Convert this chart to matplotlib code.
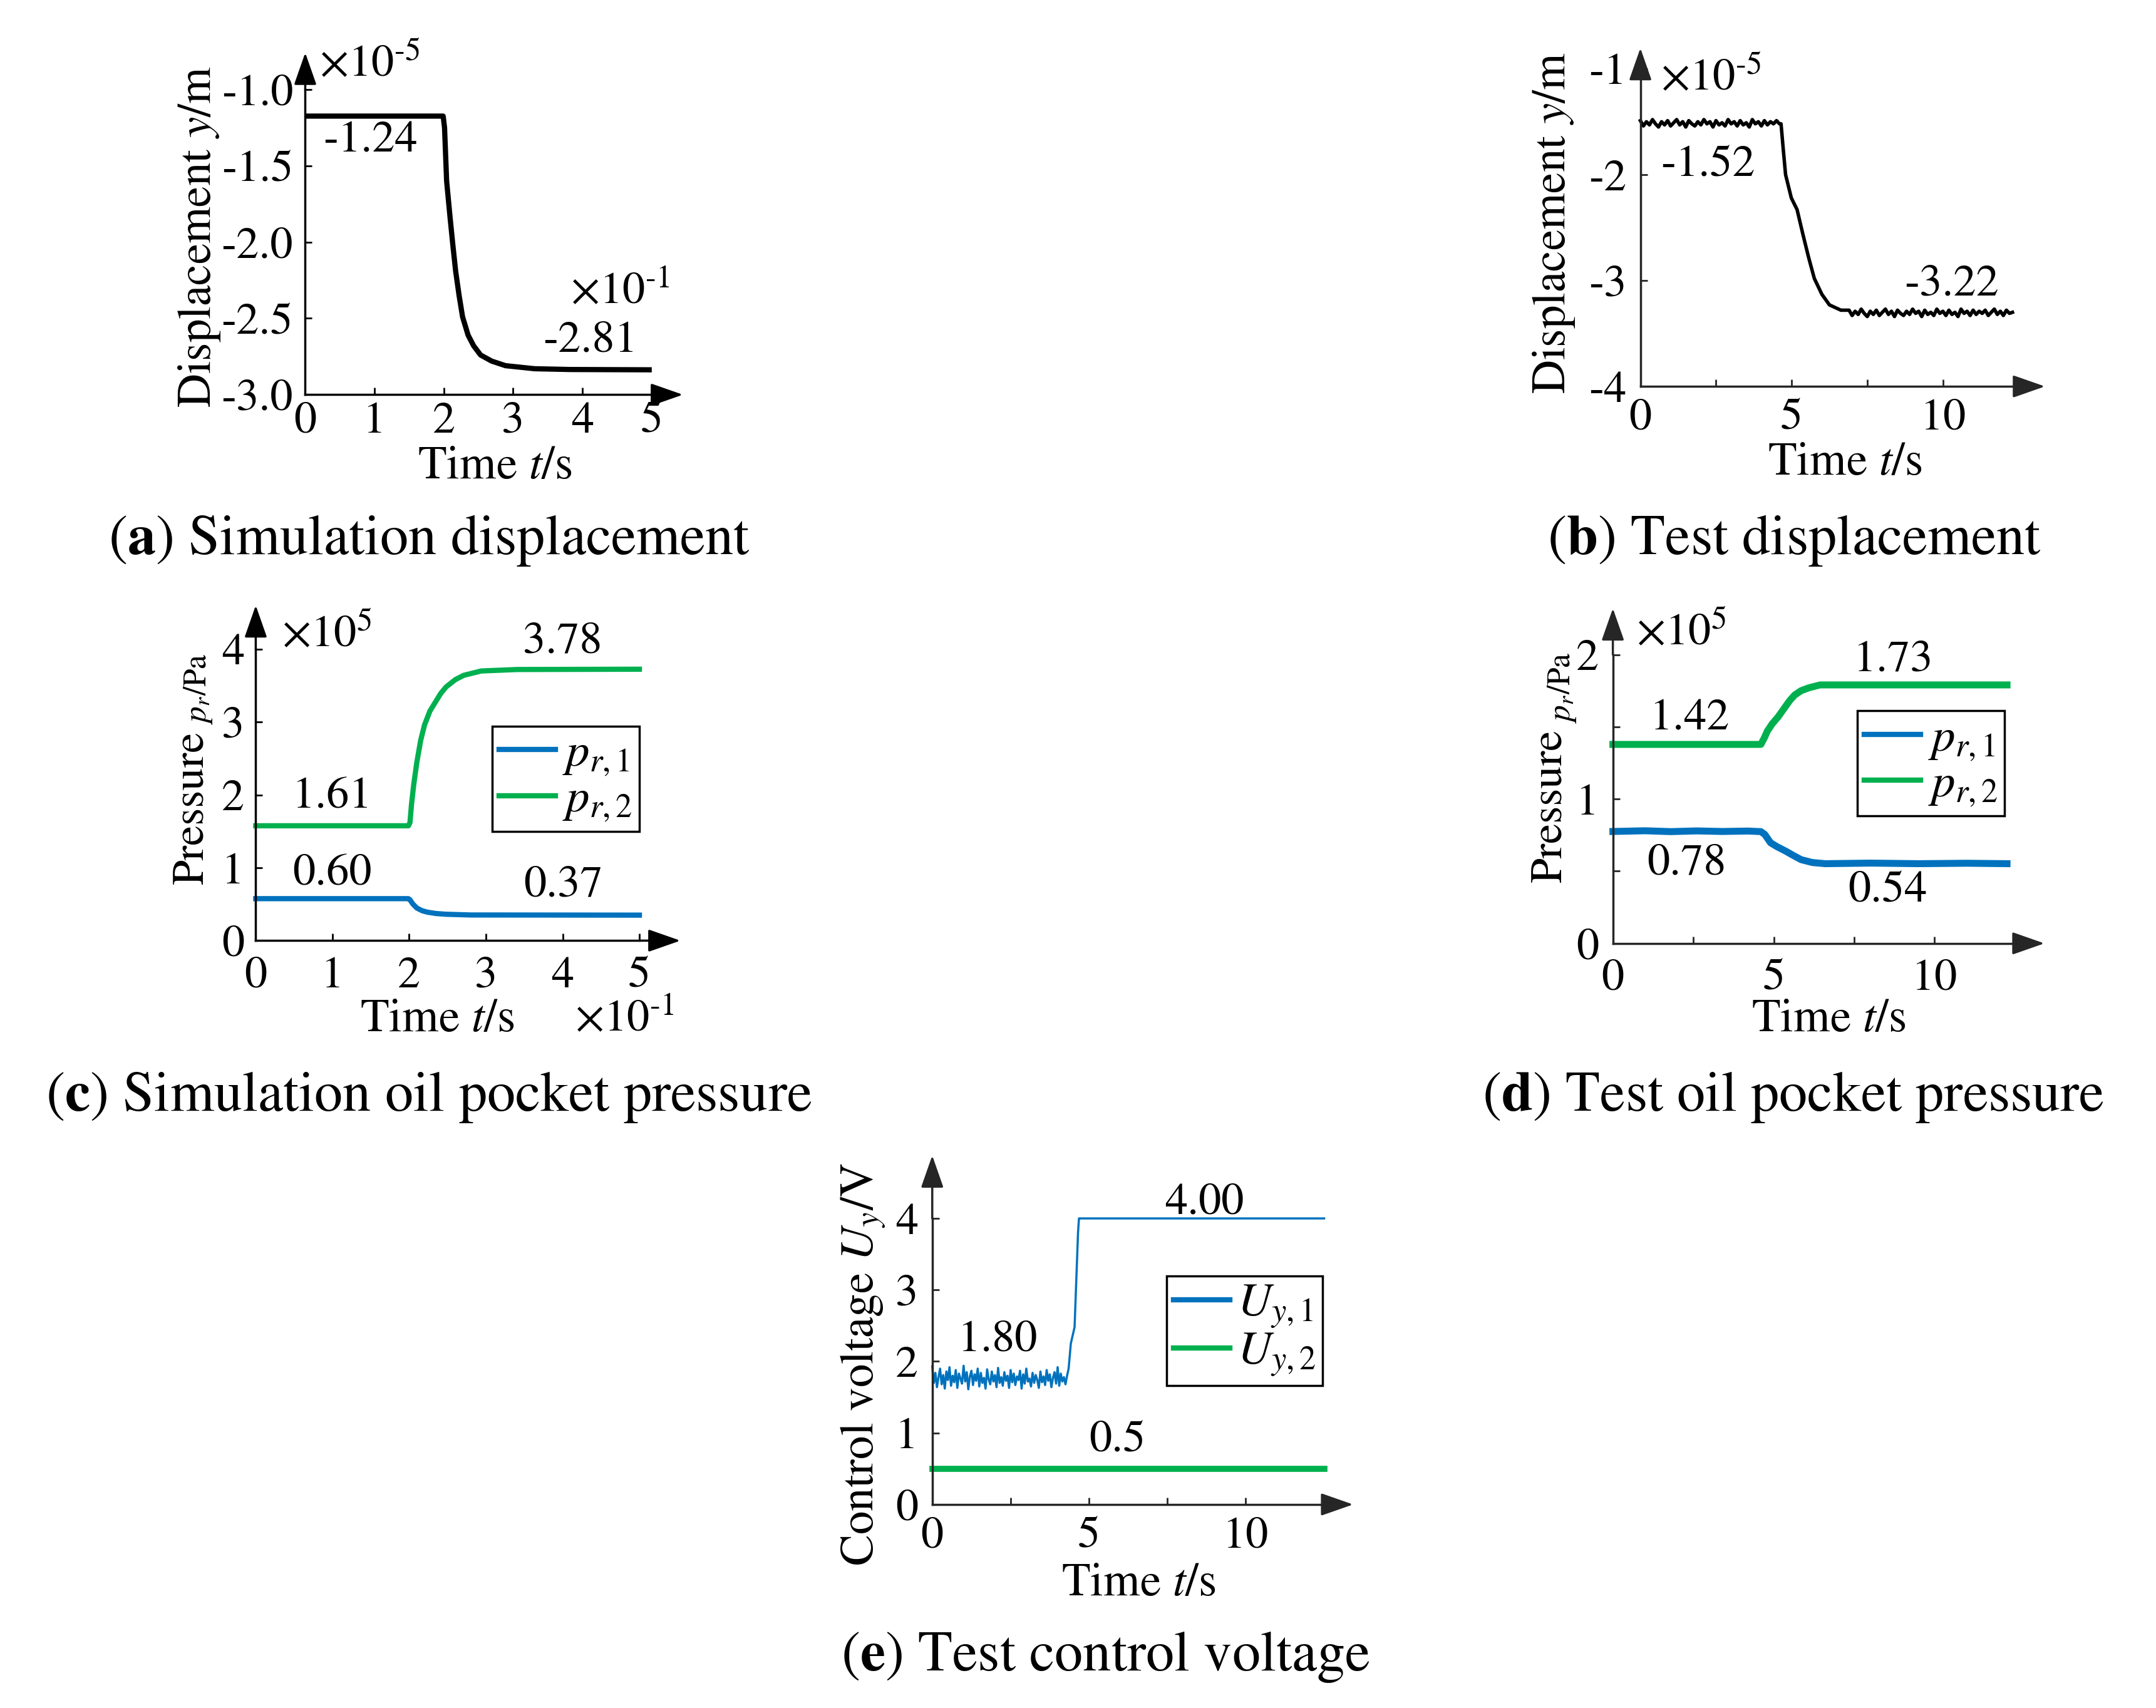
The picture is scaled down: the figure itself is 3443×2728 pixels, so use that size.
import numpy as np
import matplotlib
matplotlib.use('Agg')
import matplotlib.pyplot as plt

plt.rcParams['font.family'] = 'STIXGeneral'
plt.rcParams['mathtext.fontset'] = 'stix'
plt.rcParams['axes.unicode_minus'] = False

BLUE = '#0072BD'
GREEN = '#00B04F'

###########################################################
# (a) simulated displacement, time in x10^-1 s, y in x10^-5 m
t_a = [0, 1.99, 2.01, 2.04, 2.09, 2.13, 2.17, 2.22, 2.27, 2.35, 2.43, 2.53, 2.69, 2.89, 3.31, 3.82, 5.0]
y_a = [-1.175, -1.175, -1.25, -1.60, -1.84, -2.02, -2.19, -2.35, -2.49, -2.61, -2.68, -2.74,
       -2.78, -2.81, -2.83, -2.835, -2.837]

# (b) measured displacement (0.1 s samples before / after the step)
y_b_pre = [-1.49, -1.54, -1.50, -1.53, -1.48, -1.52, -1.55, -1.50, -1.53, -1.49,
           -1.54, -1.51, -1.48, -1.53, -1.50, -1.55, -1.49, -1.52, -1.54, -1.50,
           -1.53, -1.48, -1.52, -1.50, -1.55, -1.49, -1.53, -1.51, -1.54, -1.48,
           -1.52, -1.50, -1.54, -1.49, -1.53, -1.51, -1.55, -1.48, -1.52, -1.50,
           -1.54, -1.49, -1.53, -1.50, -1.52, -1.49, -1.52]
t_b_step = [4.65, 4.72, 4.8, 4.99, 5.18, 5.37, 5.56, 5.75, 6.0, 6.25, 6.63]
y_b_step = [-1.52, -1.75, -2.0, -2.22, -2.33, -2.56, -2.78, -2.98, -3.13, -3.23, -3.28]
y_b_post = [-3.28, -3.33, -3.29, -3.32, -3.27, -3.31, -3.34, -3.29, -3.32, -3.28,
            -3.33, -3.30, -3.27, -3.32, -3.29, -3.34, -3.28, -3.31, -3.33, -3.29,
            -3.32, -3.27, -3.31, -3.29, -3.34, -3.28, -3.32, -3.30, -3.33, -3.27,
            -3.31, -3.29, -3.33, -3.28, -3.32, -3.30, -3.34, -3.27, -3.31, -3.29,
            -3.33, -3.28, -3.32, -3.29, -3.31, -3.28, -3.33, -3.30, -3.27, -3.32,
            -3.29, -3.33, -3.28, -3.31, -3.30]

# (c) simulated oil pocket pressure, x10^5 Pa
t_c2 = [0, 1.99, 2.01, 2.03, 2.06, 2.10, 2.15, 2.20, 2.27, 2.34, 2.41, 2.48, 2.6, 2.71, 2.94, 3.41, 5.0]
p_c2 = [1.576, 1.576, 1.62, 1.87, 2.15, 2.45, 2.75, 2.96, 3.15, 3.27, 3.39, 3.48, 3.58, 3.64, 3.70, 3.72, 3.724]
t_c1 = [0, 1.99, 2.01, 2.05, 2.10, 2.17, 2.24, 2.35, 2.48, 2.8, 5.0]
p_c1 = [0.576, 0.576, 0.56, 0.50, 0.447, 0.41, 0.39, 0.372, 0.362, 0.352, 0.35]

# (d) measured oil pocket pressure
t_d1 = [0, 1.0, 1.8, 2.6, 3.4, 4.2, 4.6, 4.72, 4.9, 5.1, 5.37, 5.6, 5.85, 6.2, 6.6, 8.0, 9.5, 11.0, 12.25]
p_d1 = [0.775, 0.78, 0.774, 0.779, 0.775, 0.778, 0.774, 0.755, 0.697, 0.67, 0.639, 0.61, 0.58,
        0.56, 0.552, 0.556, 0.552, 0.555, 0.552]
t_d2 = [0, 4.6, 4.7, 4.8, 4.95, 5.14, 5.3, 5.49, 5.65, 5.85, 6.09, 6.44, 12.25]
p_d2 = [1.378, 1.378, 1.42, 1.47, 1.52, 1.57, 1.62, 1.68, 1.72, 1.75, 1.77, 1.79, 1.79]

# (e) control voltage (0.05 s samples before the step)
u_e1_pre = [1.93, 1.70, 1.84, 1.64, 1.78, 1.90, 1.68, 1.81, 1.62, 1.86,
            1.74, 1.92, 1.66, 1.80, 1.71, 1.88, 1.63, 1.83, 1.76, 1.69,
            1.94, 1.72, 1.85, 1.61, 1.79, 1.87, 1.67, 1.82, 1.73, 1.90,
            1.65, 1.84, 1.70, 1.77, 1.62, 1.89, 1.75, 1.68, 1.86, 1.72,
            1.81, 1.64, 1.91, 1.70, 1.78, 1.66, 1.85, 1.73, 1.80, 1.63,
            1.88, 1.71, 1.83, 1.67, 1.79, 1.74, 1.87, 1.62, 1.82, 1.69,
            1.90, 1.72, 1.76, 1.65, 1.84, 1.70, 1.81, 1.74, 1.63, 1.86,
            1.71, 1.79, 1.67, 1.88, 1.73, 1.82, 1.64, 1.77, 1.85, 1.69,
            1.92, 1.66, 1.83, 1.72, 1.78, 1.68, 1.80]
t_e1_step = [4.35, 4.42, 4.54, 4.6, 4.65, 4.68, 12.5]
u_e1_step = [1.9, 2.25, 2.48, 3.2, 3.8, 4.0, 4.0]
t_e2 = [0, 12.5]
u_e2 = [0.5, 0.5]

###########################################################
fig = plt.figure(figsize=(34.43, 27.28), dpi=100)


def setup(ax, xlim, ylim, xticks, xlabels, yticks, ylabels, color, xtip, ytip, xpad, ypad):
    ax.set_xlim(*xlim)
    ax.set_ylim(*ylim)
    ax.set_xticks(xticks)
    ax.set_xticklabels(xlabels)
    ax.set_yticks(yticks)
    ax.set_yticklabels(ylabels)
    ax.patch.set_visible(False)
    for s in ['top', 'right']:
        ax.spines[s].set_visible(False)
    for s in ['left', 'bottom']:
        ax.spines[s].set_linewidth(2.5)
        ax.spines[s].set_color(color)
    ax.tick_params(direction='in', length=8, width=2, labelsize=52, color=color, labelcolor='black')
    ax.tick_params(axis='x', pad=xpad)
    ax.tick_params(axis='y', pad=ypad)
    ap = dict(arrowstyle='-|>,head_length=1.0,head_width=0.35', mutation_scale=32, lw=2.5,
              color=color, shrinkA=0, shrinkB=0)
    ax.annotate('', xy=(xtip, 0), xytext=(1, 0), xycoords='axes fraction',
                textcoords='axes fraction', arrowprops=ap, annotation_clip=False)
    ax.annotate('', xy=(0, ytip), xytext=(0, 1), xycoords='axes fraction',
                textcoords='axes fraction', arrowprops=ap, annotation_clip=False)


def legend(ax, labels, anchor):
    leg = ax.legend(labels, loc='upper right', bbox_to_anchor=anchor, fontsize=54, frameon=True,
                    fancybox=False, edgecolor='black', framealpha=1, handlelength=1.2,
                    handletextpad=0.15, borderpad=0.15, labelspacing=0.02, borderaxespad=0)
    leg.get_frame().set_linewidth(2.5)
    for h in leg.get_lines():
        h.set_linewidth(6)


W, H = 1568.0, 1242.0
FS = 52
sup_m5 = r'$\times$10$^{\text{-}5}$'
sup_m1 = r'$\times$10$^{\text{-}1}$'
sup_5 = r'$\times$10$^{5}$'
tk = ['0', '', '5', '', '10', '']
tx = [0, 2.5, 5, 7.5, 10, 12.5]

# (a)
ax = fig.add_axes([222 / W, 1 - 287 / H, 252 / W, 222 / H])
ax.plot(t_a, y_a, color='black', lw=6, clip_on=False, solid_capstyle='butt')
setup(ax, (0, 5), (-3.0, -1.0), [0, 1, 2, 3, 4, 5], ['0', '1', '2', '3', '4', '5'],
      [-3.0, -2.5, -2.0, -1.5, -1.0], ['-3.0', '-2.5', '-2.0', '-1.5', '-1.0'],
      'black', 1.09, 1.12, 8, 14)
ax.text(0.2, -0.84, sup_m5, fontsize=FS, ha='left', va='center')
ax.text(0.26, -1.34, '-1.24', fontsize=FS, ha='left', va='center')
ax.text(3.83, -2.33, sup_m1, fontsize=FS, ha='left', va='center')
ax.text(3.43, -2.65, '-2.81', fontsize=FS, ha='left', va='center')
fig.text(145 / W, 1 - 172 / H, 'Displacement $y$/m', rotation=90, fontsize=54, ha='center', va='center')
fig.text(360 / W, 1 - 340 / H, 'Time $t$/s', fontsize=54, ha='center', va='center')
fig.text(312 / W, 1 - 393 / H, r'($\mathbf{a}$) Simulation displacement', fontsize=65, ha='center', va='center')

# (b)
ax = fig.add_axes([1193 / W, 1 - 281 / H, 275 / W, 231 / H])
t_b = list(np.linspace(0, 4.6, len(y_b_pre))) + t_b_step + list(np.linspace(6.9, 12.3, len(y_b_post)))
y_b = y_b_pre + y_b_step + y_b_post
ax.plot(t_b, y_b, color='black', lw=4, clip_on=False)
setup(ax, (0, 12.5), (-4, -1), tx, tk, [-4, -3, -2, -1], ['-4', '-3', '-2', '-1'],
      '#262626', 1.07, 1.065, 14, 16)
ax.text(0.68, -1.09, sup_m5, fontsize=FS, ha='left', va='center')
ax.text(0.68, -1.92, '-1.52', fontsize=FS, ha='left', va='center')
ax.text(8.73, -3.04, '-3.22', fontsize=FS, ha='left', va='center')
fig.text(1130 / W, 1 - 162 / H, 'Displacement $y$/m', rotation=90, fontsize=54, ha='center', va='center')
fig.text(1342 / W, 1 - 337 / H, 'Time $t$/s', fontsize=54, ha='center', va='center')
fig.text(1305 / W, 1 - 393 / H, r'($\mathbf{b}$) Test displacement', fontsize=65, ha='center', va='center')

# (c)
ax = fig.add_axes([186 / W, 1 - 684 / H, 279 / W, 212 / H])
ax.plot(t_c1, p_c1, color=BLUE, lw=6, clip_on=False)
ax.plot(t_c2, p_c2, color=GREEN, lw=6, clip_on=False)
setup(ax, (0, 5), (0, 4), [0, 1, 2, 3, 4, 5], ['0', '1', '2', '3', '4', '5'],
      [0, 1, 2, 3, 4], ['0', '1', '2', '3', '4'], 'black', 1.107, 1.15, 18, 13)
legend(ax, [r'$p_{r,1}$', r'$p_{r,2}$'], (1.0, 0.736))
ax.text(0.34, 4.19, sup_5, fontsize=FS, ha='left', va='center')
ax.text(3.48, 4.09, '3.78', fontsize=FS, ha='left', va='center')
ax.text(0.48, 1.96, '1.61', fontsize=FS, ha='left', va='center')
ax.text(0.48, 0.91, '0.60', fontsize=FS, ha='left', va='center')
ax.text(3.49, 0.75, '0.37', fontsize=FS, ha='left', va='center')
fig.text(140 / W, 1 - 587 / H, 'Pressure', rotation=90, fontsize=52, ha='center', va='center')
fig.text(144 / W, 1 - 501 / H, '$p_r$/Pa', rotation=90, fontsize=37, ha='center', va='center')
fig.text(318 / W, 1 - 742 / H, 'Time $t$/s', fontsize=54, ha='center', va='center')
fig.text(418 / W, 1 - 742 / H, sup_m1, fontsize=FS, ha='left', va='center')
fig.text(312 / W, 1 - 798 / H, r'($\mathbf{c}$) Simulation oil pocket pressure', fontsize=65, ha='center', va='center')

# (d)
ax = fig.add_axes([1173 / W, 1 - 686 / H, 292.5 / W, 210 / H])
ax.plot(t_d1, p_d1, color=BLUE, lw=8, clip_on=False)
ax.plot(t_d2, p_d2, color=GREEN, lw=8, clip_on=False)
setup(ax, (0, 12.5), (0, 2), tx, tk, [0, 0.5, 1, 1.5, 2], ['0', '', '1', '', '2'],
      '#262626', 1.073, 1.16, 18, 16)
legend(ax, [r'$p_{r,1}$', r'$p_{r,2}$'], (0.974, 0.805))
ax.text(0.73, 2.15, sup_5, fontsize=FS, ha='left', va='center')
ax.text(7.48, 1.96, '1.73', fontsize=FS, ha='left', va='center')
ax.text(1.15, 1.55, '1.42', fontsize=FS, ha='left', va='center')
ax.text(1.07, 0.55, '0.78', fontsize=FS, ha='left', va='center')
ax.text(7.31, 0.36, '0.54', fontsize=FS, ha='left', va='center')
fig.text(1128 / W, 1 - 586 / H, 'Pressure', rotation=90, fontsize=52, ha='center', va='center')
fig.text(1136 / W, 1 - 500 / H, '$p_r$/Pa', rotation=90, fontsize=37, ha='center', va='center')
fig.text(1330 / W, 1 - 742 / H, 'Time $t$/s', fontsize=54, ha='center', va='center')
fig.text(1304 / W, 1 - 798 / H, r'($\mathbf{d}$) Test oil pocket pressure', fontsize=65, ha='center', va='center')

# (e)
ax = fig.add_axes([678 / W, 1 - 1094 / H, 285 / W, 208 / H])
t_e1 = list(np.linspace(0, 4.3, len(u_e1_pre))) + t_e1_step
u_e1 = u_e1_pre + u_e1_step
ax.plot(t_e1, u_e1, color=BLUE, lw=2.5, clip_on=False)
ax.plot(t_e2, u_e2, color=GREEN, lw=7, clip_on=False)
setup(ax, (0, 12.5), (0, 4), tx, tk, [0, 1, 2, 3, 4], ['0', '1', '2', '3', '4'],
      '#262626', 1.074, 1.22, 14, 16)
legend(ax, [r'$U_{y,1}$', r'$U_{y,2}$'], (0.996, 0.798))
ax.text(7.41, 4.21, '4.00', fontsize=FS, ha='left', va='center')
ax.text(0.83, 2.29, '1.80', fontsize=FS, ha='left', va='center')
ax.text(5.0, 0.88, '0.5', fontsize=FS, ha='left', va='center')
fig.text(628 / W, 1 - 992 / H, 'Control voltage $U_y$/V', rotation=90, fontsize=54, ha='center', va='center')
fig.text(828 / W, 1 - 1152 / H, 'Time $t$/s', fontsize=54, ha='center', va='center')
fig.text(804 / W, 1 - 1205 / H, r'($\mathbf{e}$) Test control voltage', fontsize=65, ha='center', va='center')

fig.savefig('out.png', dpi=100, facecolor='white')
